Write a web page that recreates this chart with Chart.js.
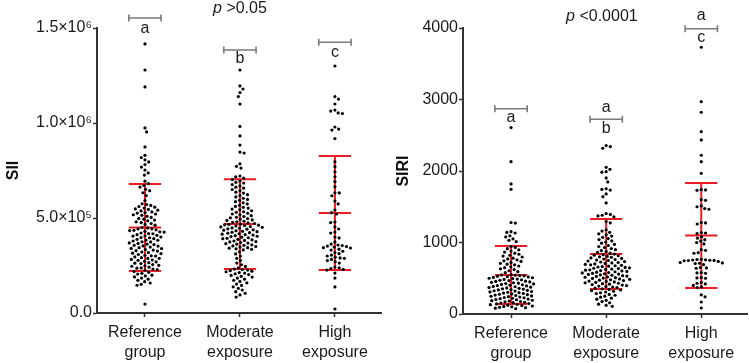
<!DOCTYPE html>
<html><head><meta charset="utf-8">
<script src="https://cdn.jsdelivr.net/npm/chart.js@4.4.0/dist/chart.umd.min.js"></script>
<style>
html,body{margin:0;padding:0;background:#fff;width:749px;height:363px;overflow:hidden}
.box{position:absolute;top:0;height:363px}
#b1{left:0;width:383px}
#b2{left:383px;width:366px}
</style></head><body>
<div class="box" id="b1"><canvas id="c1"></canvas></div>
<div class="box" id="b2"><canvas id="c2"></canvas></div>
<script>
// ---------- data ----------
const categories = [['Reference', 'group'], ['Moderate', 'exposure'], ['High', 'exposure']];

// SII values, in thousands
const SII_UNIT = 1000;
const siiRef = [1416, 1279, 1190, 974, 953, 874, 830, 818, 806, 795, 781, 768, 752, 737, 726,
  694, 681, 672, 663, 651, 644, 633, 618,
  592, 575, 571, 566, 560, 557, 552, 548, 545, 541, 537, 532, 529, 526, 521, 517, 514, 509, 503, 498, 494, 489, 485, 480, 476, 471, 466, 462,
  450, 448, 443, 442, 438, 435, 434, 430, 427, 426, 421, 418, 417, 412, 409, 406, 405, 400, 397, 396, 391, 388, 384, 383, 379, 375, 374, 369, 366, 362, 360, 356, 353, 352, 347, 344, 340, 339, 334, 331, 328, 326, 321, 318, 315, 313, 308, 304, 301, 300, 295, 291, 288, 287, 282, 279, 277, 272, 269, 265, 262, 260, 255, 251, 248, 246, 241, 237, 236, 231, 228, 225,
  219, 214, 209, 205, 199, 195, 190, 184, 178, 172, 165, 158, 151, 146, 47];
const siiMod = [1279, 1195, 1179, 1160, 1139, 1100, 982, 932, 884, 847, 842, 785, 772, 763, 721, 716, 710,
  702, 695, 688, 684, 676, 669, 662, 657, 650, 644, 636, 631, 623, 618, 611, 604, 598, 593, 586, 580, 574, 567, 561,
  556, 552, 547, 543, 538, 533, 530, 525, 521, 517, 512, 508, 504, 501, 497, 494, 490, 487, 483, 480, 477, 474, 471,
  468, 466, 464, 462, 460, 458, 455, 453, 451, 448, 446, 443, 441, 438, 436, 433, 430, 428, 425, 423, 420, 417, 415, 412, 410, 407, 404, 402, 399, 396, 393, 391, 388, 385, 382, 379, 376, 374, 371, 368, 365, 362, 359, 356, 353, 350, 347, 344, 341, 338, 335, 332,
  322, 311, 300, 288, 276, 263, 254, 245, 238,
  231, 229, 226, 223, 220, 217, 213, 210, 206, 202, 198, 193, 189, 184, 178, 172, 166, 159, 152, 145, 138, 130, 121, 112, 104, 95, 84];
const siiHigh = [1300, 1139, 1126, 1100, 1068, 1063, 1053, 1050, 979, 968, 963, 918,
  796, 770, 743, 717, 691, 664, 633, 632, 617, 589, 574, 542, 528, 521,
  479, 476, 453, 442, 426, 421, 400, 395, 374, 363, 358, 355, 352, 350, 347, 344, 342, 336, 331, 325, 318, 312, 305, 300, 294, 290, 288, 282, 276, 270, 263, 242, 238, 234, 230, 226, 210, 184, 137, 21];
const siiMean = [450, 468, 526];
const siiSD = [229, 236, 300];
const siiTickValues = [0, 500, 1000, 1500];
const siiTickLabels = ['0.0', '5.0×10⁵', '1.0×10⁶', '1.5×10⁶'];

// SIRI values
const siriRef = [2607, 2131, 1819, 1744, 1280, 1272, 1152, 1141, 1133, 1094, 1078, 1052, 1031, 1012,
  944, 931, 913, 897, 880, 866, 851, 836, 822, 810, 797, 781, 770, 758, 744, 736, 721, 709, 697, 688, 671, 660, 648, 632, 621, 605, 592, 578,
  552, 547, 543, 538, 534, 529, 523, 519, 512, 507, 500, 496, 489, 484, 478, 471, 466, 459, 455, 448, 443, 437, 431, 426, 420, 414, 409, 403, 398, 392, 386, 381, 375, 370, 364, 359, 353, 348, 342, 337, 331, 325, 320, 315, 309, 303, 298, 292, 287, 281, 276, 270, 265, 259, 253, 248, 242, 237, 231, 226, 220, 214, 209, 203, 198, 192, 187, 181, 175, 170, 164, 158, 153, 147, 141, 136, 130, 124, 118, 112, 106, 100, 94, 88, 82, 75];
const siriMod = [2355, 2341, 2318, 2052, 2024, 1991, 1983, 1903, 1847, 1752, 1742, 1733, 1680, 1641, 1553,
  1405, 1393, 1381, 1372, 1360, 1292, 1275,
  1178, 1160, 1143, 1121, 1108, 1090, 1072, 1055, 1041, 1022, 1006, 990, 975, 958, 944, 930, 915, 900, 888, 874, 862, 851,
  838, 830, 823, 815, 806, 799, 792, 784, 777, 769, 762, 755, 748, 741, 733, 727, 720, 714, 707, 700, 694, 688, 681, 675, 669, 663, 657, 651, 646, 640, 635, 629, 624, 618, 613, 607, 602, 596, 591, 585, 580, 574, 569, 563, 558, 553, 547, 542, 536, 531, 525, 519, 514, 508, 502, 497, 491, 485, 479, 473, 467, 461, 455, 449, 443, 436, 430, 424, 417, 411, 405, 398, 391, 384, 377, 370, 362,
  352, 344, 336, 327, 318, 308, 297, 286, 274, 262, 249, 236, 222, 207, 191, 174, 156, 138, 121, 108];
const siriHigh = [3731, 2970, 2822, 2550, 2434, 2220, 2131, 1968,
  1740, 1735, 1730, 1600, 1590, 1511, 1500, 1475, 1465,
  1280, 1274, 1259, 1140, 1133, 1126, 1080, 1060, 1040, 1020, 1000, 980,
  900, 890, 858, 850, 765, 762, 758, 755, 752, 750, 748, 745, 735, 720, 715, 710, 705, 690,
  650, 645, 640, 580, 575, 570, 510, 505, 500, 440, 430, 420, 400, 380, 370, 268, 240, 168, 84];
const siriMean = [545, 839, 1098];
const siriSD = [405, 490, 734];
const siriTickValues = [0, 1000, 2000, 3000, 4000];
const siriTickLabels = ['0', '1000', '2000', '3000', '4000'];

// significance letters per group and the p-value labels
const siiLetters = [['a'], ['b'], ['c']];
const siriLetters = [['a'], ['a', 'b'], ['a', 'c']];
const siiP = 'p >0.05';
const siriP = 'p <0.0001';

// ---------- styling / layout ----------
const FONT = "'Liberation Sans', Arial, Helvetica, sans-serif";
Chart.defaults.font.family = FONT;
Chart.defaults.font.size = 16;
Chart.defaults.color = '#1a1a1a';
const RED = '#ec1c24';
const AXIS = '#333333';
const HALF = 0.17;

function errorBars(means, sds) {
  return means.map((m, g) => {
    const s = sds[g];
    return [
      {x: g - HALF, y: m + s}, {x: g + HALF, y: m + s}, {x: g, y: null},
      {x: g - HALF, y: m}, {x: g + HALF, y: m}, {x: g, y: null},
      {x: g - HALF, y: m - s}, {x: g + HALF, y: m - s}, {x: g, y: null},
      {x: g, y: m - s}, {x: g, y: m + s}
    ];
  });
}

const annotPlugin = {
  id: 'annot',
  afterDraw(chart) {
    const a = chart.options.plugins.annot;
    if (!a) return;
    const {ctx} = chart;
    const xs = chart.scales.x, ys = chart.scales.y;
    ctx.save();
    ctx.strokeStyle = '#7a7a7a';
    ctx.lineWidth = 1.6;
    a.brackets.forEach((b, g) => {
      const x0 = xs.getPixelForValue(g - HALF), x1 = xs.getPixelForValue(g + HALF);
      const y = ys.getPixelForValue(b);
      ctx.beginPath();
      ctx.moveTo(x0, y); ctx.lineTo(x1, y);
      ctx.moveTo(x0, y - 3.5); ctx.lineTo(x0, y + 3.5);
      ctx.moveTo(x1, y - 3.5); ctx.lineTo(x1, y + 3.5);
      ctx.stroke();
    });
    ctx.fillStyle = '#1a1a1a';
    ctx.font = '16px ' + FONT;
    ctx.textAlign = 'center';
    ctx.textBaseline = 'alphabetic';
    a.letters.forEach((ls, g) => {
      ls.forEach((l, k) => {
        const y = ys.getPixelForValue(a.letterPos[g][k]);
        ctx.fillText(l, xs.getPixelForValue(g), y + 4.2);
      });
    });
    const italicPart = a.p.slice(0, 1), rest = a.p.slice(1);
    ctx.font = 'italic 16px ' + FONT;
    const w1 = ctx.measureText(italicPart).width;
    ctx.font = '16px ' + FONT;
    const w2 = ctx.measureText(rest).width;
    const cx = xs.getPixelForValue(a.pX);
    const by = ys.getPixelForValue(a.pY);
    const left = cx - (w1 + w2) / 2;
    ctx.textAlign = 'left';
    ctx.font = 'italic 16px ' + FONT;
    ctx.fillText(italicPart, left, by);
    ctx.font = '16px ' + FONT;
    ctx.fillText(rest, left + w1, by);
    ctx.restore();
  }
};

function swarm(chart, groups, diam) {
  const xs = chart.scales.x, ys = chart.scales.y;
  const unit = xs.getPixelForValue(1) - xs.getPixelForValue(0);
  return groups.map((vals, g) => {
    const pts = vals.map(v => ({v, py: ys.getPixelForValue(v)})).sort((a, b) => a.py - b.py);
    const placed = [];
    let flip = 1;
    pts.forEach(p => {
      const near = placed.filter(q => Math.abs(q.py - p.py) < diam);
      const cands = [0];
      near.forEach(q => {
        const dx = Math.sqrt(diam * diam - (q.py - p.py) ** 2);
        cands.push(q.dx + dx, q.dx - dx);
      });
      cands.sort((a, b) => (Math.abs(a) - Math.abs(b)) || (flip > 0 ? b - a : a - b));
      let best = 0;
      for (const c of cands) {
        if (near.every(q => (q.dx - c) ** 2 + (q.py - p.py) ** 2 >= diam * diam - 1e-6)) { best = c; break; }
      }
      if (best !== 0) flip = -flip;
      placed.push({v: p.v, py: p.py, dx: best});
    });
    return placed.map(q => ({x: g + q.dx / unit, y: q.v}));
  });
}

function makeChart(id, cfg) {
  const bars = errorBars(cfg.means, cfg.sds);
  const datasets = [];
  cfg.groups.forEach((vals, g) => {
    datasets.push({
      data: vals.map(v => ({x: g, y: v})),
      pointRadius: 1.6, pointHoverRadius: 1.6, pointBackgroundColor: '#000', pointBorderWidth: 0,
      showLine: false, order: 0
    });
  });
  bars.forEach(b => {
    datasets.push({
      data: b, showLine: true, spanGaps: false, pointRadius: 0, borderColor: RED, borderWidth: 2,
      order: 1
    });
  });
  const chart = new Chart(document.getElementById(id), {
    type: 'scatter',
    data: {datasets},
    plugins: [annotPlugin],
    options: {
      responsive: true, maintainAspectRatio: false, animation: false, devicePixelRatio: 1,
      layout: {padding: {top: 28, right: cfg.padRight, bottom: 0, left: 0}},
      plugins: {legend: {display: false}, tooltip: {enabled: false}, annot: cfg.annot},
      scales: {
        x: {
          type: 'linear', min: -0.505, max: 2.485,
          afterBuildTicks: s => { s.ticks = [0, 1, 2].map(v => ({value: v})); },
          afterFit: s => { s.height = cfg.xHeight; },
          ticks: {callback: (v, i) => categories[i], padding: 5, color: '#1a1a1a', font: {size: 16, lineHeight: 1.27}, maxRotation: 0, autoSkip: false},
          grid: {display: true, drawOnChartArea: false, tickLength: 4, color: AXIS, tickWidth: 1.5},
          border: {display: true, color: AXIS, width: 2}
        },
        y: {
          type: 'linear', min: 0, max: cfg.yMax,
          afterBuildTicks: s => { s.ticks = cfg.tickValues.map(v => ({value: v})); },
          afterFit: s => { s.width = cfg.yWidth; },
          ticks: {callback: (v, i) => cfg.tickLabels[i], padding: 1, color: '#1a1a1a', font: {size: 16}},
          grid: {display: true, drawOnChartArea: false, tickLength: 4, color: AXIS, tickWidth: 1.5},
          border: {display: true, color: AXIS, width: 2},
          title: {display: true, text: cfg.title, font: {size: 16, weight: 'bold'}, color: '#111', padding: {top: cfg.titlePad, bottom: 0}}
        }
      }
    }
  });
  const pts = swarm(chart, cfg.groups, 4.3);
  pts.forEach((p, g) => { chart.data.datasets[g].data = p; });
  chart.update('none');
  return chart;
}

makeChart('c1', {
  groups: [siiRef, siiMod, siiHigh].map(a => a.map(v => v * SII_UNIT)),
  means: siiMean.map(v => v * SII_UNIT), sds: siiSD.map(v => v * SII_UNIT),
  yMax: 1500 * SII_UNIT, tickValues: siiTickValues.map(v => v * SII_UNIT), tickLabels: siiTickLabels,
  title: 'SII', titlePad: 4, yWidth: 97, xHeight: 50, padRight: 2,
  annot: {
    brackets: [1553e3, 1384e3, 1425e3],
    letters: siiLetters,
    letterPos: [[1495e3], [1337e3], [1368e3]],
    p: siiP, pX: 1, pY: 1579e3
  }
});

makeChart('c2', {
  groups: [siriRef, siriMod, siriHigh],
  means: siriMean, sds: siriSD,
  yMax: 4000, tickValues: siriTickValues, tickLabels: siriTickLabels,
  title: 'SIRI', titlePad: 11, yWidth: 80, xHeight: 49, padRight: 1,
  annot: {
    brackets: [2871, 2723, 3990],
    letters: siriLetters,
    letterPos: [[2741], [2888, 2587], [4168, 3867]],
    p: siriP, pX: 0.955, pY: 4098
  }
});
</script>
</body></html>
